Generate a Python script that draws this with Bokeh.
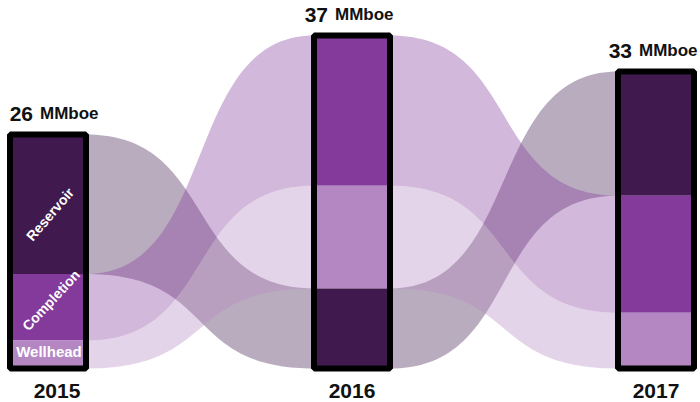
import numpy as np
from bokeh.plotting import figure
from bokeh.models import ColumnDataSource, Range1d
from bokeh.core.properties import value
from bokeh.embed import file_html
from bokeh.resources import INLINE

# ---------------- data ----------------
years = [2015, 2016, 2017]
year_labels = ["2015", "2016", "2017"]
totals = [26, 37, 33]
total_labels = ["26", "37", "33"]
unit_label = "MMboe"
categories = ["Reservoir", "Completion", "Wellhead"]
reservoir = [15.5, 8.9, 13.8]
completion = [7.4, 16.7, 13.0]
wellhead = [3.1, 11.4, 6.2]
# stacking order inside each bar, top to bottom
stack_order = [
    ["Reservoir", "Completion", "Wellhead"],
    ["Completion", "Wellhead", "Reservoir"],
    ["Reservoir", "Completion", "Wellhead"],
]

# ---------------- style ----------------
values = {"Reservoir": reservoir, "Completion": completion, "Wellhead": wellhead}
bar_colors = {"Reservoir": "#401a4e", "Completion": "#833a9a", "Wellhead": "#b487c3"}
BAR_W = 0.25
FLOW_ALPHA = 0.36
FONT = "Liberation Sans"
label_shift = [9, 0, 0]  # px nudges of the year / total labels

# segment extents (bottom, top) per bar
seg = {}
for i in range(len(years)):
    top = sum(values[c][i] for c in stack_order[i])
    for c in stack_order[i]:
        v = values[c][i]
        seg[(i, c)] = (top - v, top)
        top -= v

p = figure(width=700, height=402, output_backend="svg", toolbar_location=None,
           x_axis_type=None, y_axis_type=None, min_border=0,
           x_range=Range1d(2014.84375, 2017.14638), y_range=Range1d(-3.778, 40.889))
p.outline_line_color = None
p.grid.visible = False
p.background_fill_color = "white"


def bez(x0, x1, y0, y1, n=80, c=0.58):
    t = np.linspace(0, 1, n)
    ca = x0 + c * (x1 - x0)
    cb = x1 - c * (x1 - x0)
    bx = (1 - t) ** 3 * x0 + 3 * (1 - t) ** 2 * t * ca + 3 * (1 - t) * t ** 2 * cb + t ** 3 * x1
    by = (1 - t) ** 3 * y0 + 3 * (1 - t) ** 2 * t * y0 + 3 * (1 - t) * t ** 2 * y1 + t ** 3 * y1
    return bx, by


# ---------------- flows ----------------
fx, fy, fc = [], [], []
for i in range(len(years) - 1):
    x0 = years[i] + BAR_W / 2
    x1 = years[i + 1] - BAR_W / 2
    for c in categories:
        b0, t0 = seg[(i, c)]
        b1, t1 = seg[(i + 1, c)]
        tx, ty = bez(x0, x1, t0, t1)
        bx, by = bez(x0, x1, b0, b1)
        fx.append(list(tx) + list(bx[::-1]))
        fy.append(list(ty) + list(by[::-1]))
        fc.append(bar_colors[c])
p.patches(xs="xs", ys="ys", fill_color="c", fill_alpha=FLOW_ALPHA, line_color=None,
          source=ColumnDataSource(dict(xs=fx, ys=fy, c=fc)))

# ---------------- bars ----------------
sx, sb, st, sc = [], [], [], []
for i, yr in enumerate(years):
    for c in stack_order[i]:
        b, t = seg[(i, c)]
        sx.append(yr); sb.append(b); st.append(t); sc.append(bar_colors[c])
p.vbar(x="x", bottom="b", top="t", width=BAR_W, fill_color="c", line_color=None,
       source=ColumnDataSource(dict(x=sx, b=sb, t=st, c=sc)))
p.vbar(x=years, bottom=0, top=totals, width=BAR_W, fill_color=None,
       line_color="black", line_width=6)

# ---------------- labels inside 2015 bar ----------------
lab_y = [(seg[(0, c)][0] + seg[(0, c)][1]) / 2 for c in categories]
p.text(x=[years[0]] * 3, y=lab_y, text=categories,
       angle=[0.86, 0.82, 0.0], x_offset=[2, 3, 1], y_offset=[10, -7, -3],
       text_align="center", text_baseline="middle", text_color="white",
       text_font=value(FONT), text_font_style="bold",
       text_font_size=["14px", "14px", "15px"])

# ---------------- totals above bars ----------------
p.text(x=years, y=totals, text=total_labels,
       x_offset=[s - 24 for s in label_shift], y_offset=-21,
       text_align="right", text_baseline="alphabetic", text_color="#111111",
       text_font=value(FONT), text_font_style="bold", text_font_size="21px")
p.text(x=years, y=totals, text=[unit_label] * 3,
       x_offset=[s - 17 for s in label_shift], y_offset=-21,
       text_align="left", text_baseline="alphabetic", text_color="#111111",
       text_font=value(FONT), text_font_style="bold", text_font_size="17px")

# ---------------- year labels ----------------
p.text(x=years, y=[0] * 3, text=year_labels,
       x_offset=label_shift, y_offset=23,
       text_align="center", text_baseline="alphabetic", text_color="#111111",
       text_font=value(FONT), text_font_style="bold", text_font_size="21px")

open("out.html", "w").write(file_html(p, INLINE))
